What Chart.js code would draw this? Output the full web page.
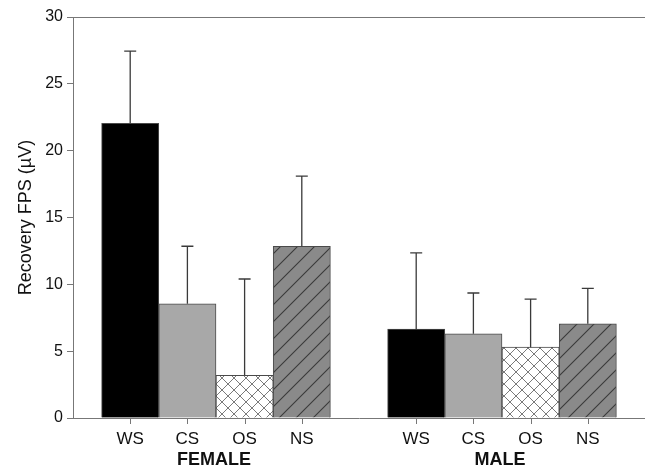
<!DOCTYPE html>
<html>
<head>
<meta charset="utf-8">
<script src="https://cdn.jsdelivr.net/npm/chart.js@4.4.0/dist/chart.umd.min.js"></script>
<style>
  body { margin: 0; background: #fff; }
  canvas { display: block; }
</style>
</head>
<body>
<canvas id="chart" width="645" height="470"></canvas>
<script>
// データ
const groups = ['FEMALE', 'MALE'];
const conditions = ['WS', 'CS', 'OS', 'NS'];
const femaleMean = [22.05, 8.55, 3.2, 12.85];
const femaleErr = [27.45, 12.85, 10.4, 18.1];
const maleMean = [6.65, 6.3, 5.3, 7.05];
const maleErr = [12.35, 9.35, 8.9, 9.7];

// 模様
function crossPattern() {
  const c = document.createElement('canvas');
  c.width = 12; c.height = 12;
  const g = c.getContext('2d');
  g.fillStyle = '#fff'; g.fillRect(0, 0, 12, 12);
  g.strokeStyle = '#7a7a7a'; g.lineWidth = 1;
  g.beginPath();
  g.moveTo(0, 0); g.lineTo(12, 12);
  g.moveTo(0, 12); g.lineTo(12, 0);
  g.stroke();
  return g.createPattern(c, 'repeat');
}
function hatchPattern() {
  const s = 17;
  const c = document.createElement('canvas');
  c.width = s; c.height = s;
  const g = c.getContext('2d');
  g.fillStyle = '#8a8a8a'; g.fillRect(0, 0, s, s);
  g.strokeStyle = '#3a3a3a'; g.lineWidth = 1.1;
  g.beginPath();
  g.moveTo(0, s); g.lineTo(s, 0);
  g.moveTo(-2, 2); g.lineTo(2, -2);
  g.moveTo(s - 2, s + 2); g.lineTo(s + 2, s - 2);
  g.stroke();
  return g.createPattern(c, 'repeat');
}
const fills = ['#000', '#a8a8a8', crossPattern(), hatchPattern()];

// ラベルとデータ（グループの間は空欄）
const labels = [''].concat(conditions, [''], conditions, ['']);
const values = [null].concat(femaleMean, [null], maleMean, [null]);
const errors = [null].concat(femaleErr, [null], maleErr, [null]);
const colors = [null].concat(fills, [null], fills, [null]);

const FONT = '"Liberation Sans", Arial, sans-serif';

const errorBars = {
  id: 'errorBars',
  afterDatasetsDraw(chart) {
    const ctx = chart.ctx;
    const y = chart.scales.y;
    const meta = chart.getDatasetMeta(0);
    ctx.save();
    ctx.strokeStyle = '#3a3a3a';
    ctx.lineWidth = 1.3;
    meta.data.forEach((bar, i) => {
      if (errors[i] == null) return;
      const top = y.getPixelForValue(errors[i]);
      ctx.beginPath();
      ctx.moveTo(bar.x, bar.y);
      ctx.lineTo(bar.x, top);
      ctx.moveTo(bar.x - 6, top);
      ctx.lineTo(bar.x + 6, top);
      ctx.stroke();
    });
    ctx.restore();
  }
};

const frameAndGroups = {
  id: 'frameAndGroups',
  afterDraw(chart) {
    const ctx = chart.ctx;
    const a = chart.chartArea;
    const x = chart.scales.x;
    ctx.save();
    ctx.strokeStyle = '#777';
    ctx.lineWidth = 1;
    ctx.beginPath();
    ctx.moveTo(a.left, a.top + 0.5);
    ctx.lineTo(chart.width, a.top + 0.5);
    // x軸の目盛り（ラベルのある位置だけ）
    labels.forEach((l, i) => {
      if (!l) return;
      const px = Math.round(x.getPixelForValue(i)) + 0.5;
      ctx.moveTo(px, a.bottom);
      ctx.lineTo(px, a.bottom + 6);
    });
    ctx.stroke();
    ctx.fillStyle = '#111';
    ctx.font = 'bold 18px ' + FONT;
    ctx.textAlign = 'center';
    ctx.textBaseline = 'middle';
    groups.forEach((g, k) => {
      const first = 1 + k * (conditions.length + 1);
      const last = first + conditions.length - 1;
      const cx = (x.getPixelForValue(first) + x.getPixelForValue(last)) / 2 - 2;
      ctx.fillText(g, cx, 460);
    });
    ctx.restore();
  }
};

new Chart(document.getElementById('chart'), {
  type: 'bar',
  data: {
    labels,
    datasets: [{
      data: values,
      backgroundColor: colors,
      borderColor: '#4a4a4a',
      borderWidth: 1,
      categoryPercentage: 1,
      barPercentage: 1
    }]
  },
  options: {
    responsive: false,
    animation: false,
    layout: { padding: { top: 17, right: 0, left: 0, bottom: 0 } },
    plugins: { legend: { display: false }, tooltip: { enabled: false } },
    scales: {
      x: {
        offset: false,
        grid: { display: false },
        border: { display: true, color: '#777', width: 1 },
        ticks: { color: '#111', font: { family: FONT, size: 17 }, padding: 3, autoSkip: false, maxRotation: 0 },
        afterFit: s => { s.height = 52; s.paddingLeft = 0; s.paddingRight = 0; }
      },
      y: {
        min: 0,
        max: 30,
        grid: { drawOnChartArea: false, tickLength: 6, color: '#777' },
        border: { color: '#777', width: 1 },
        ticks: { stepSize: 5, color: '#111', font: { family: FONT, size: 16 }, padding: 4 },
        title: {
          display: true,
          text: 'Recovery FPS (µV)',
          color: '#111',
          font: { family: FONT, size: 18 },
          padding: { top: 15, bottom: 0 }
        },
        afterFit: s => { s.width = 73; }
      }
    }
  },
  plugins: [errorBars, frameAndGroups]
});
</script>
</body>
</html>
